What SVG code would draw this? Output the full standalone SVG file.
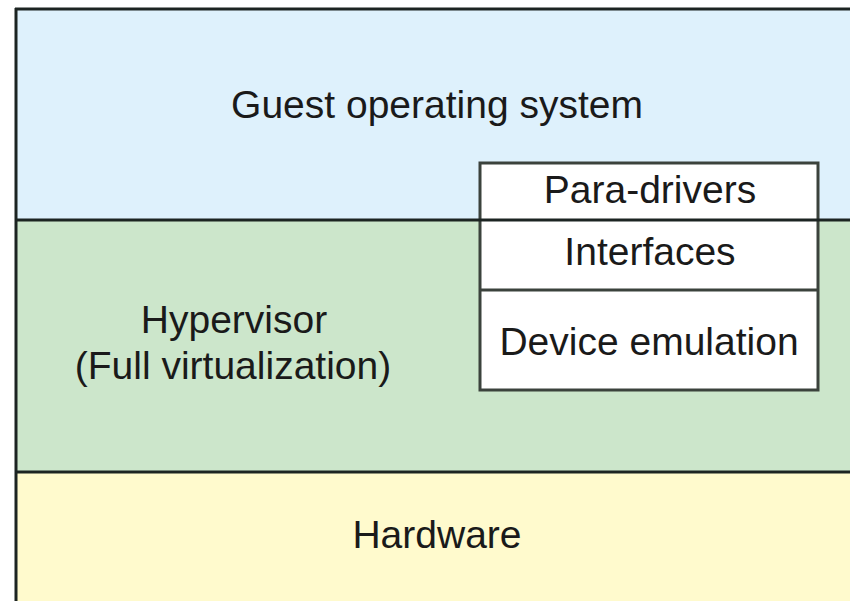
<svg xmlns="http://www.w3.org/2000/svg" width="850" height="601" viewBox="0 0 850 601">
<style>
text{font-family:"Liberation Sans",Arial,sans-serif;font-size:39px;fill:#1a1a1a;text-anchor:middle}
.ln{stroke:#1c2422;stroke-width:3;fill:none}
</style>
<rect width="850" height="601" fill="#ffffff"/>
<g id="guest">
<rect x="15" y="8" width="835" height="212" fill="#def1fc"/>
<text x="437" y="118">Guest operating system</text>
</g>
<g id="hypervisor">
<rect x="15" y="220" width="835" height="252" fill="#cce6cb"/>
<text x="234" y="333">Hypervisor</text>
<text x="233" y="379">(Full virtualization)</text>
</g>
<g id="hardware">
<rect x="15" y="472" width="835" height="129" fill="#fffacd"/>
<text x="437" y="548">Hardware</text>
</g>
<g id="stack">
<rect x="480" y="163" width="338" height="227" fill="#ffffff" stroke="#3b423c" stroke-width="3"/>
<line x1="480" y1="290" x2="818" y2="290" stroke="#3b423c" stroke-width="3"/>
<text x="650" y="203">Para-drivers</text>
<text x="650" y="265">Interfaces</text>
<text x="649" y="355">Device emulation</text>
</g>
<g id="connectors">
<line class="ln" x1="15" y1="9" x2="850" y2="9"/>
<line class="ln" x1="16" y1="8" x2="16" y2="601"/>
<line class="ln" x1="15" y1="220" x2="850" y2="220"/>
<line class="ln" x1="15" y1="472" x2="850" y2="472"/>
</g>
</svg>
